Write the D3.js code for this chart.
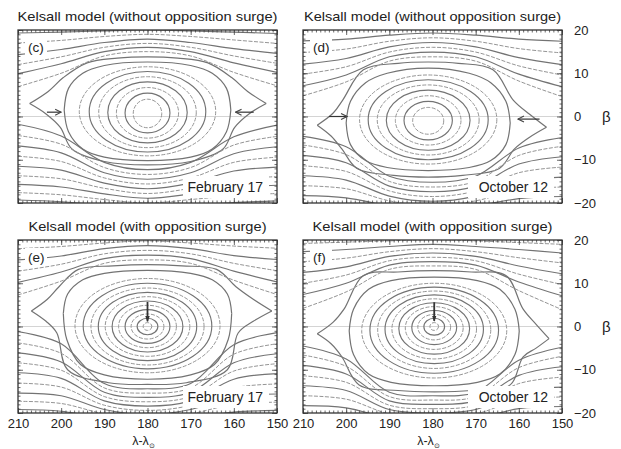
<!DOCTYPE html>
<html>
<head>
<meta charset="utf-8">
<script src="https://cdn.jsdelivr.net/npm/d3@7"></script>
<style>
  body { margin: 0; background: #fff; }
  text { font-family: "Liberation Sans", Arial, sans-serif; fill: #222; }
</style>
</head>
<body>
<svg id="drawing_region"></svg>
<script>
// λ columns at which the open contour lines are read
const lamCols = [210, 200, 190, 180, 170, 160, 150];
const xTicks = [210, 200, 190, 180, 170, 160, 150];
const yTicks = [-20, -10, 0, 10, 20];

// ---- (c) without surge, February 17 ----
// inner rings: [λ left, λ right, β top, β bottom]
const cRings = [[183.3,176.7,4.0,-2.6],[185.2,174.8,5.4,-3.8],[187.2,172.8,6.7,-5.0],[189.2,170.8,8.0,-6.1],
  [191.3,168.7,9.2,-7.2],[193.5,166.5,10.4,-8.2],[195.8,164.2,11.5,-9.1]];
// outer rings, upper and lower edge from tip to tip: [λ, β]
const cHexUp = [[199.3,1.5],[198.3,6.5],[195,10],[190,11.8],[180,12.6],[170,11.8],[165,10],[161.7,6.5],[160.7,1.5]];
const cHexLo = [[199.3,1.5],[198.3,-3.5],[195,-7.5],[190,-9.4],[180,-10.2],[170,-9.4],[165,-7.5],[161.7,-3.5],[160.7,1.5]];
const cLensUp = [[207.3,3],[203,5.8],[199.5,9],[194,12.4],[187,13.5],[180,13.8],[173,13.5],[166,12.4],[160.5,9],[156.8,5.8],[152.5,3]];
const cLensLo = [[207.3,3],[203.5,0.6],[200.2,-2.5],[197.5,-7.5],[190,-10.4],[180,-11.2],[170,-10.4],[162.5,-7.5],[159.8,-2.5],[156.5,0.6],[152.5,3]];
// open lines: β at lamCols
const cUpper = [[6.9,10.0,14.0,15.0,14.0,10.2,7.1],[9.9,12.2,15.0,16.0,15.0,12.4,10.2],
  [12.0,13.8,16.0,16.9,16.0,14.0,12.3],[14.3,15.5,17.1,17.9,17.1,15.7,14.6],
  [17.0,17.6,18.5,19.0,18.5,17.7,16.9],[19.3,19.5,19.8,20.0,19.8,19.5,19.2]];
const cLower = [[-1.8,-4.5,-10.6,-12.3,-10.6,-4.7,-2.0],[-4.4,-6.4,-11.8,-13.4,-11.8,-6.6,-4.6],
  [-6.8,-8.4,-13.0,-14.5,-13.0,-8.6,-7.0],[-9.2,-10.4,-14.2,-15.6,-14.2,-10.6,-9.4],
  [-11.5,-12.4,-15.4,-16.7,-15.4,-12.6,-11.7],[-13.7,-14.4,-16.6,-17.8,-16.6,-14.6,-13.9],
  [-15.7,-16.3,-17.9,-18.9,-17.9,-16.5,-15.9],[-17.6,-18.1,-19.2,-20.0,-19.2,-18.3,-17.8],
  [-19.3,-19.7,-20.5,-21.1,-20.5,-19.9,-19.5]];
const cArrows = [[203.3,1.0,200.0,1.0],[155.4,1.0,159.6,1.0]];

// ---- (d) without surge, October 12 ----
const dRings = [[184.6,177.4,2.1,-4.1],[186.6,175.4,3.5,-5.4],[188.6,173.4,4.8,-6.6],[190.7,171.3,6.1,-7.8],
  [192.8,169.2,7.3,-8.9],[194.9,167.1,8.5,-10.0],[196.9,165.1,9.6,-11.0]];
const dHexUp = [[200,-1.5],[199,3.5],[195.5,7.8],[190.5,10],[181,11.2],[171.5,10],[166.5,7.8],[163,3.5],[162,-1.5]];
const dHexLo = [[200,-1.5],[199,-6.5],[195.5,-10.2],[190.5,-11.8],[181,-12.5],[171.5,-11.8],[166.5,-10.2],[163,-6.5],[162,-1.5]];
const dLensUp = [[206.7,-2],[203,0.8],[200.8,3.8],[196,10.8],[188,12.3],[181,12.6],[174,12.3],[166,10.8],[161.3,3.8],[157.5,0.5],[153.6,-2.5]];
const dLensLo = [[206.7,-2],[203.5,-4.5],[201,-7.5],[197.5,-12],[189,-13.6],[181,-14],[173,-13.6],[164.5,-12],[161,-7.5],[157.5,-4.8],[153.6,-2.5]];
const dUpper = [[4.8,8.0,12.8,13.8,12.8,8.2,4.6],[7.1,9.6,13.8,14.9,13.8,9.8,6.9],
  [9.8,11.5,14.9,16.0,14.9,11.7,9.6],[12.1,13.4,16.1,17.1,16.1,13.6,12.0],
  [14.8,15.6,17.4,18.2,17.4,15.7,14.7],[17.5,17.9,18.8,19.3,18.8,17.9,17.4]];
const dLower = [[-4.6,-7.0,-13.8,-15.2,-13.8,-7.3,-4.9],[-6.6,-8.8,-15.0,-16.3,-15.0,-9.0,-6.9],
  [-9.0,-10.7,-16.1,-17.4,-16.1,-11.0,-9.3],[-11.4,-12.7,-17.2,-18.5,-17.2,-13.0,-11.7],
  [-13.7,-14.7,-18.4,-19.6,-18.4,-15.0,-14.0],[-16.0,-16.7,-19.5,-20.7,-19.5,-17.0,-16.3],
  [-18.3,-18.8,-20.7,-21.8,-20.7,-19.0,-18.5]];
const dArrows = [[204.0,0.0,199.8,0.0],[155.2,-0.6,160.2,-0.6]];

// ---- (e) with surge, February 17 ----
const eRings = [[181,179,0.9,-0.9],[182.4,177.6,1.9,-1.9],[183.8,176.2,2.9,-2.9],[185.2,174.8,3.9,-3.9],
  [186.7,173.3,4.9,-4.9],[188.2,171.8,5.9,-5.9],[189.8,170.2,6.9,-6.9],[191.4,168.6,7.9,-7.9],
  [193.1,166.9,8.9,-8.9],[194.9,165.1,10,-9.8],[196.8,163.2,11.1,-10.7]];
const eHexUp = [[199.5,3],[198.5,7.5],[195,10.8],[190,12.3],[180,13],[170,12.3],[165,10.8],[161.5,7.5],[160.5,3]];
const eHexLo = [[199.5,3],[198.7,-3],[195.5,-8.8],[190,-11.2],[180,-12.2],[170,-11.2],[164.5,-8.8],[161.3,-3],[160.5,3]];
const eLensUp = [[206.9,3.6],[203.2,6.3],[200.5,9.2],[196,13.2],[188,14.0],[180,14.3],[172,14.0],[164,13.2],[159.5,9.2],[155.5,6.3],[151.2,3.6]];
const eLensLo = [[206.9,3.6],[203.5,1.2],[201,-1.5],[198.5,-10],[189,-13.0],[180,-13.4],[171,-13.0],[161.5,-10],[159,-1.5],[155.5,1.2],[151.2,3.6]];
const eUpper = [[7.3,10.5,14.6,15.4,14.6,10.7,7.4],[10.2,12.6,15.7,16.5,15.7,12.8,10.3],
  [12.8,14.4,16.8,17.6,16.8,14.6,12.9],[15.4,16.3,18.0,18.7,18.0,16.4,15.5],[18.0,18.5,19.3,19.8,19.3,18.6,18.1]];
const eLower = [[-1.2,-4.0,-13.2,-14.4,-13.2,-4.2,-1.4],[-3.8,-6.2,-14.2,-15.4,-14.2,-6.4,-4.0],
  [-6.1,-8.2,-15.2,-16.4,-15.2,-8.4,-6.3],[-8.4,-10.1,-16.2,-17.4,-16.2,-10.3,-8.6],
  [-10.7,-12.0,-17.2,-18.4,-17.2,-12.2,-10.9],[-13.1,-14.0,-18.2,-19.4,-18.2,-14.2,-13.3],
  [-15.4,-16.0,-19.2,-20.4,-19.2,-16.2,-15.6],[-17.3,-17.8,-20.2,-21.4,-20.2,-18.0,-17.5],
  [-19.2,-19.6,-21.2,-22.4,-21.2,-19.8,-19.4]];
const eArrows = [[180,5.7,180,1.2]];

// ---- (f) with surge, October 12 ----
const fRings = [[180.6,178.6,0.9,-0.9],[182,177.2,1.9,-2.0],[183.4,175.8,2.8,-3.1],[184.8,174.4,3.7,-4.2],
  [186.3,172.9,4.6,-5.3],[187.8,171.4,5.5,-6.4],[189.4,169.8,6.4,-7.5],[191,168.2,7.3,-8.6],
  [192.7,166.5,8.2,-9.7],[194.5,164.7,9.1,-10.8],[196.4,162.8,10.0,-11.9]];
const fHexUp = [[199.3,-1],[198.3,4],[194.8,8.6],[189.6,10.6],[179.6,11.4],[169.6,10.6],[164.4,8.6],[160.9,4],[159.9,-1]];
const fHexLo = [[199.3,-1],[198.3,-6.5],[194.8,-11],[189.6,-12.9],[179.6,-13.7],[169.6,-12.9],[164.4,-11],[160.9,-6.5],[159.9,-1]];
const fLensUp = [[206.7,-1.7],[203,1],[200.5,4],[196,11.8],[188,12.6],[179.6,12.9],[171,12.6],[163,11.8],[159,4],[156,0.5],[153,-2.8]];
const fLensLo = [[206.7,-1.7],[203.5,-4],[201,-7],[197,-13.5],[188,-14.8],[179.6,-15.1],[171,-14.8],[162,-13.5],[159,-7],[156,-5],[153,-2.8]];
const fUpper = [[4.2,8.0,13.2,14.0,13.2,8.3,3.9],[7.4,10.0,14.2,15.0,14.2,10.3,7.1],
  [10.0,11.9,15.2,16.0,15.2,12.1,9.7],[12.5,13.8,16.2,17.0,16.2,14.0,12.2],
  [15.0,15.8,17.3,18.0,17.3,15.9,14.7],[17.3,17.8,18.5,19.0,18.5,17.8,17.0],[19.2,19.5,19.8,20.1,19.8,19.4,19.0]];
const fLower = [[-4.5,-7.5,-15.2,-16.0,-15.2,-7.8,-4.8],[-6.6,-9.2,-16.2,-17.0,-16.2,-9.5,-6.9],
  [-9.0,-11.0,-17.2,-18.0,-17.2,-11.3,-9.3],[-11.4,-12.9,-18.2,-19.0,-18.2,-13.2,-11.7],
  [-13.7,-14.8,-19.2,-20.0,-19.2,-15.1,-14.0],[-16.0,-16.8,-20.2,-21.0,-20.2,-17.0,-16.3],
  [-18.3,-18.8,-21.2,-22.0,-21.2,-19.0,-18.5]];
const fArrows = [[179.6,5.6,179.6,1.3]];

const titleNo = 'Kelsall model (without opposition surge)';
const titleWith = 'Kelsall model (with opposition surge)';

const panels = [
  {tag:'(c)', title:titleNo, date:'February 17', x:18, y:30, rings:cRings,
   hex:[cHexUp,cHexLo], lens:[cLensUp,cLensLo], upper:cUpper, lower:cLower, arrows:cArrows, head:'open', right:false, bottom:false, tl:260},
  {tag:'(d)', title:titleNo, date:'October 12', x:303, y:30, rings:dRings,
   hex:[dHexUp,dHexLo], lens:[dLensUp,dLensLo], upper:dUpper, lower:dLower, arrows:dArrows, head:'open', right:true, bottom:false, tl:257},
  {tag:'(e)', title:titleWith, date:'February 17', x:18, y:240, rings:eRings,
   hex:[eHexUp,eHexLo], lens:[eLensUp,eLensLo], upper:eUpper, lower:eLower, arrows:eArrows, head:'fill', right:false, bottom:true, tl:238},
  {tag:'(f)', title:titleWith, date:'October 12', x:303, y:240, rings:fRings,
   hex:[fHexUp,fHexLo], lens:[fLensUp,fLensLo], upper:fUpper, lower:fLower, arrows:fArrows, head:'fill', right:true, bottom:true, tl:240}
];

const config = { width: 621, height: 449, pw: 259, ph: 173 };
const solidColor = '#737373';
const dashColor = '#959595';
const dash = '4,1.5';

const svg = d3.select('#drawing_region')
  .attr('width', config.width)
  .attr('height', config.height);

const defs = svg.append('defs');
defs.append('marker').attr('id', 'open').attr('viewBox', '0 0 8 8')
  .attr('refX', 7).attr('refY', 4).attr('markerWidth', 8).attr('markerHeight', 8)
  .attr('markerUnits', 'userSpaceOnUse').attr('orient', 'auto')
  .append('path').attr('d', 'M1,1 L7,4 L1,7').attr('fill', 'none').attr('stroke', '#444').attr('stroke-width', 1.1);
defs.append('marker').attr('id', 'fill').attr('viewBox', '0 0 8 8')
  .attr('refX', 7).attr('refY', 4).attr('markerWidth', 6).attr('markerHeight', 6)
  .attr('markerUnits', 'userSpaceOnUse').attr('orient', 'auto')
  .append('path').attr('d', 'M0,1 L8,4 L0,7 Z').attr('fill', '#333');

panels.forEach((p, k) => {
  const w = config.pw, h = config.ph;
  const g = svg.append('g').attr('transform', `translate(${p.x},${p.y})`);
  const x = d3.scaleLinear().domain([210, 150]).range([0, w]);
  const y = d3.scaleLinear().domain([-20, 20]).range([h, 0]);

  defs.append('clipPath').attr('id', 'clip' + k)
    .append('rect').attr('width', w).attr('height', h);
  const plot = g.append('g').attr('clip-path', `url(#clip${k})`);

  // beta = 0 guide line
  plot.append('line').attr('x1', 0).attr('x2', w)
    .attr('y1', y(0)).attr('y2', y(0))
    .attr('stroke', '#d4d4d4').attr('stroke-width', 1);

  // alternate dashed / solid contour styles
  const isDash = (i, offset) => (i + offset) % 2 === 0;
  const styled = (sel, offset) => sel.attr('fill', 'none')
    .attr('stroke', (d, i) => (isDash(i, offset) ? dashColor : solidColor))
    .attr('stroke-width', (d, i) => (isDash(i, offset) ? 1.0 : 1.15))
    .attr('stroke-dasharray', (d, i) => (isDash(i, offset) ? dash : null));

  // inner rings
  plot.selectAll('ellipse.ring').data(p.rings).join('ellipse')
    .attr('class', 'ring')
    .attr('cx', d => x((d[0] + d[1]) / 2))
    .attr('cy', d => y((d[2] + d[3]) / 2))
    .attr('rx', d => (x(d[1]) - x(d[0])) / 2)
    .attr('ry', d => (y(d[3]) - y(d[2])) / 2)
    .call(styled, 0);

  // hexagonal ring (dashed) and pointed lens (solid), two edges meeting at the tips
  const arc = d3.line().x(d => x(d[0])).y(d => y(d[1])).curve(d3.curveCatmullRom.alpha(0.5));
  plot.selectAll('path.hex').data(p.hex).join('path')
    .attr('class', 'hex').attr('d', arc).call(styled, p.rings.length % 2 === 0 ? 1 : 0)
    .attr('stroke', solidColor).attr('stroke-dasharray', null).attr('stroke-width', 1.2);
  plot.selectAll('path.lens').data(p.lens).join('path')
    .attr('class', 'lens').attr('d', arc)
    .attr('fill', 'none').attr('stroke', solidColor).attr('stroke-width', 1.2);

  // open contour lines
  const open = d3.line().x((d, i) => x(lamCols[i])).y(d => y(d))
    .curve(d3.curveCatmullRom.alpha(0.5));
  plot.selectAll('path.up').data(p.upper).join('path')
    .attr('class', 'up').attr('d', open).call(styled, 0);
  plot.selectAll('path.low').data(p.lower).join('path')
    .attr('class', 'low').attr('d', open).call(styled, 1);

  // arrows
  g.selectAll('line.arrow').data(p.arrows).join('line')
    .attr('class', 'arrow')
    .attr('x1', d => x(d[0])).attr('y1', d => y(d[1]))
    .attr('x2', d => x(d[2])).attr('y2', d => y(d[3]))
    .attr('stroke', '#333').attr('stroke-width', p.head === 'fill' ? 1.8 : 1.2)
    .attr('marker-end', `url(#${p.head})`);

  // white boxes behind the labels inside the frame
  g.append('rect').attr('x', 7).attr('y', 8).attr('width', 22).attr('height', 18).attr('fill', '#fff');
  g.append('rect').attr('x', w - 94).attr('y', h - 27).attr('width', 86).attr('height', 22).attr('fill', '#fff');

  // frame with inward ruler ticks
  const minorX = d3.range(150, 211, 1), majorX = d3.range(150, 211, 10);
  const minorY = d3.range(-20, 21, 1), majorY = d3.range(-20, 21, 10);
  const tickAxis = (axis, vals, size, tr) => {
    const a = g.append('g').attr('transform', tr)
      .call(axis.tickValues(vals).tickSize(-size).tickFormat(''));
    a.select('.domain').remove();
    a.selectAll('line').attr('stroke', '#444').attr('stroke-width', 0.8);
  };
  tickAxis(d3.axisTop(x), minorX, 2.5, 'translate(0,0)');
  tickAxis(d3.axisTop(x), majorX, 5, 'translate(0,0)');
  tickAxis(d3.axisBottom(x), minorX, 2.5, `translate(0,${h})`);
  tickAxis(d3.axisBottom(x), majorX, 5, `translate(0,${h})`);
  tickAxis(d3.axisLeft(y), minorY, 2.5, 'translate(0,0)');
  tickAxis(d3.axisLeft(y), majorY, 5, 'translate(0,0)');
  tickAxis(d3.axisRight(y), minorY, 2.5, `translate(${w},0)`);
  tickAxis(d3.axisRight(y), majorY, 5, `translate(${w},0)`);
  g.append('rect').attr('width', w).attr('height', h)
    .attr('fill', 'none').attr('stroke', '#333').attr('stroke-width', 1.3);

  // texts
  g.append('text').attr('x', w / 2).attr('y', -9)
    .attr('text-anchor', 'middle').style('font-size', '13.5px')
    .attr('textLength', p.tl).attr('lengthAdjust', 'spacingAndGlyphs')
    .text(p.title);
  g.append('text').attr('x', 10).attr('y', 22)
    .style('font-size', '13.5px').text(p.tag);
  g.append('text').attr('x', w - 14).attr('y', h - 11)
    .attr('text-anchor', 'end').style('font-size', '14px').text(p.date);

  if (p.right) {
    const ya = g.append('g').attr('transform', `translate(${w},0)`)
      .call(d3.axisRight(y).tickValues(yTicks).tickSize(0).tickPadding(12));
    ya.select('.domain').remove();
    ya.selectAll('text').style('font-size', '13px')
      .style('font-family', '"Liberation Sans", Arial, sans-serif').attr('fill', '#222');
    g.append('text').attr('x', w + 40).attr('y', y(0) + 5)
      .style('font-size', '15px').text('β');
  }
  if (p.bottom) {
    const xa = g.append('g').attr('transform', `translate(0,${h})`)
      .call(d3.axisBottom(x).tickValues(xTicks).tickSize(0).tickPadding(6));
    xa.select('.domain').remove();
    xa.selectAll('text').style('font-size', '13px')
      .style('font-family', '"Liberation Sans", Arial, sans-serif').attr('fill', '#222');
    const lab = g.append('text').attr('x', w / 2 - 4).attr('y', h + 32)
      .attr('text-anchor', 'middle').style('font-size', '12.5px');
    lab.append('tspan').text('λ-λ');
    lab.append('tspan').attr('dy', 3).style('font-size', '7px').text('⊙');
  }
});
</script>
</body>
</html>
